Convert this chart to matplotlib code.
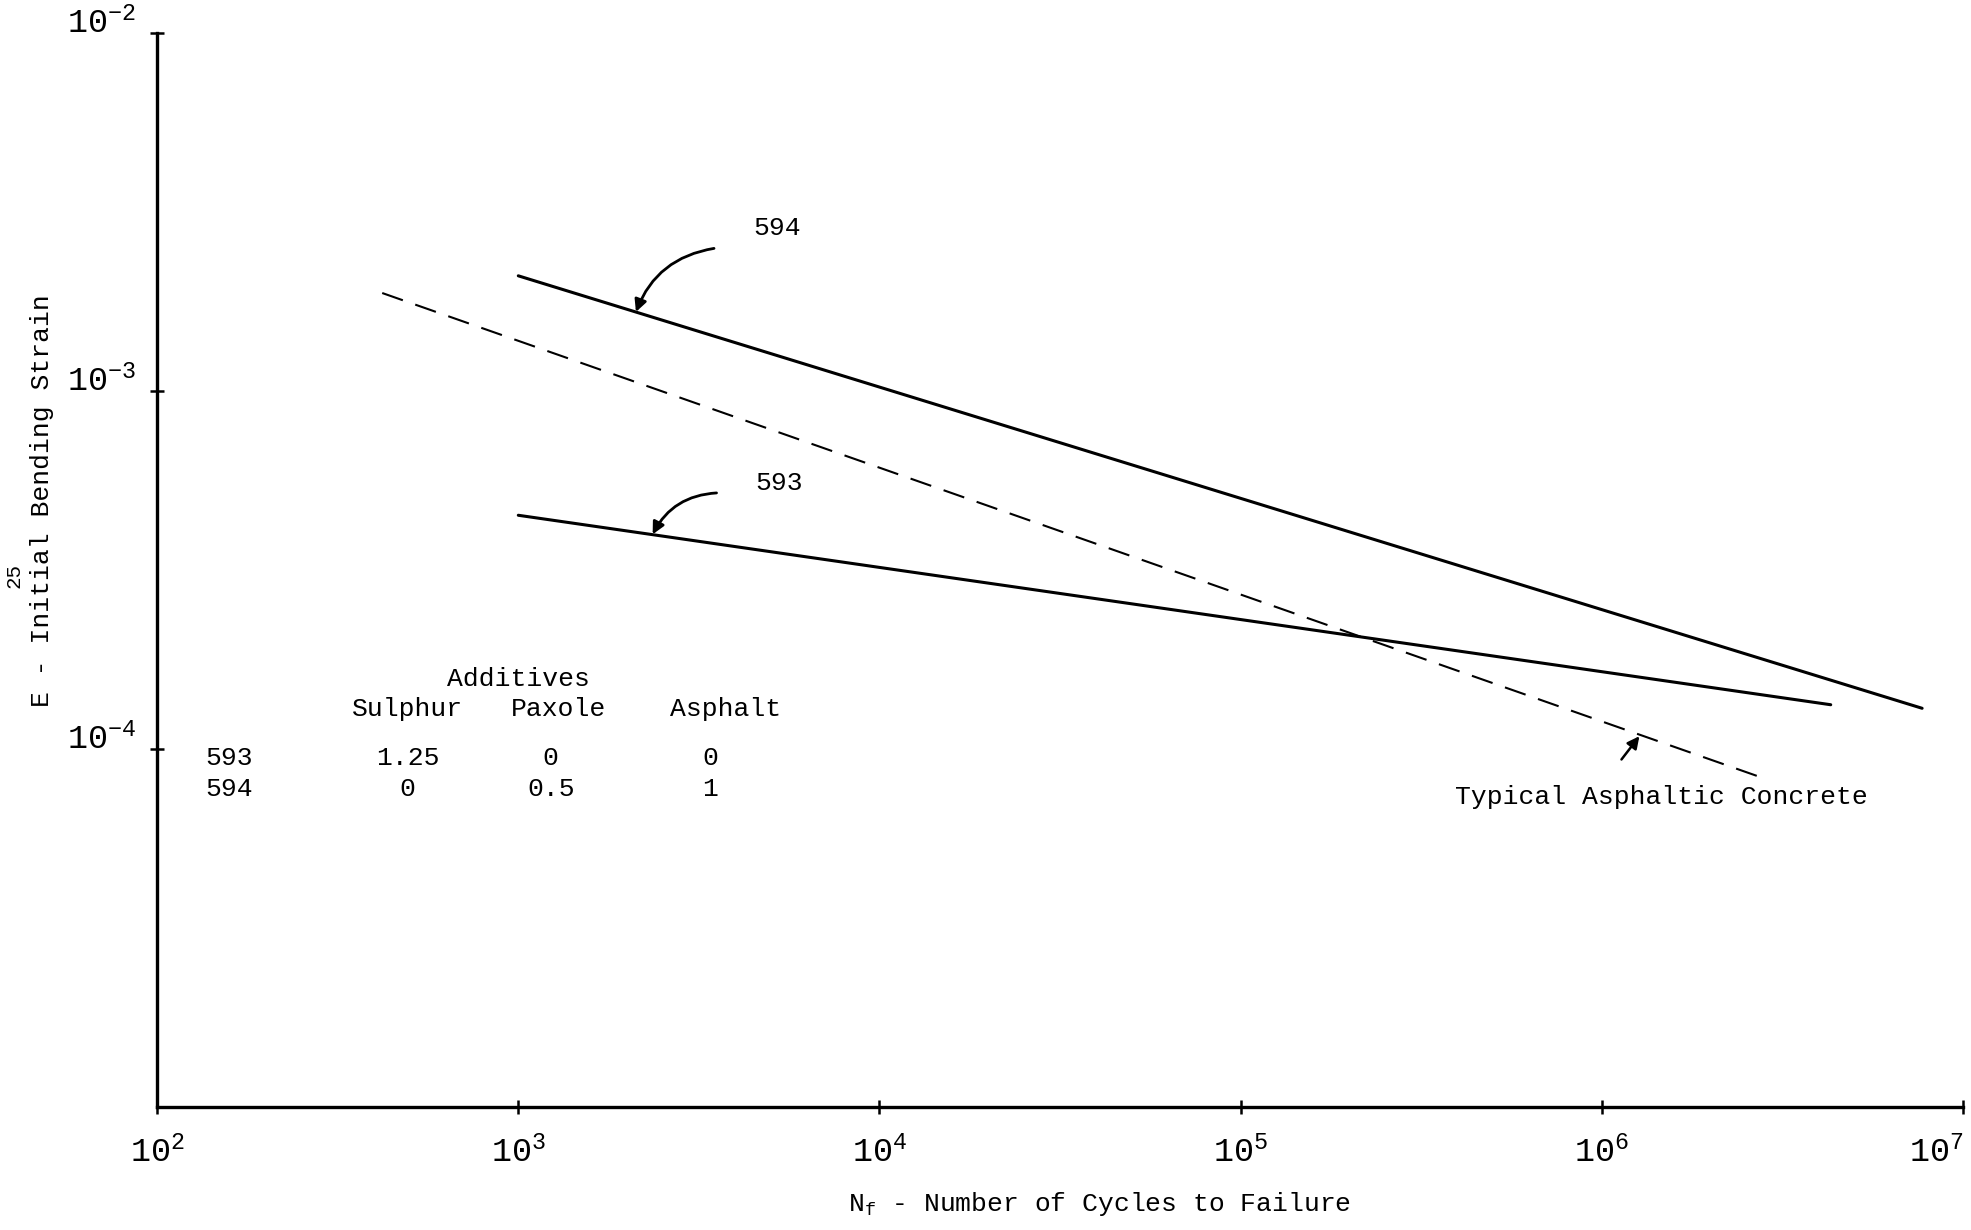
import math
import matplotlib
matplotlib.use("Agg")
import matplotlib.pyplot as plt
from matplotlib.ticker import FixedLocator, FuncFormatter

# ---- data ----
n_594 = [1.0e3, 7.7e6]
e_594 = [2.1e-3, 1.3e-4]
n_593 = [1.0e3, 4.3e6]
e_593 = [4.5e-4, 1.33e-4]
n_typ = [4.2e2, 2.7e6]
e_typ = [1.88e-3, 8.4e-5]

mixes = ["593", "594"]
sulphur = ["1.25", "0"]
paxole = ["0", "0.5"]
asphalt = ["0", "1"]
col_headers = ["Sulphur", "Paxole", "Asphalt"]

xticks = [1e2, 1e3, 1e4, 1e5, 1e6, 1e7]
yticks = [1e-4, 1e-3, 1e-2]

plt.rcParams['font.family'] = ['Liberation Mono', 'DejaVu Sans Mono']
plt.rcParams['mathtext.default'] = 'regular'

fig = plt.figure(figsize=(19.71, 12.30), dpi=100)
ax = fig.add_axes([0.0797, 0.100, 0.9163, 0.873])
ax.set_xscale('log')
ax.set_yscale('log')
ax.set_xlim(1e2, 1e7)
ax.set_ylim(1e-5, 1e-2)

ax.plot(n_594, e_594, color='black', lw=2.2, solid_capstyle='round')
ax.plot(n_593, e_593, color='black', lw=2.2, solid_capstyle='round')
ax.plot(n_typ, e_typ, color='black', lw=1.5, dashes=(10.5, 6.3))

for s in ['top', 'right']:
    ax.spines[s].set_visible(False)
for s in ['left', 'bottom']:
    ax.spines[s].set_linewidth(2.4)

ax.xaxis.set_major_locator(FixedLocator(xticks))
ax.yaxis.set_major_locator(FixedLocator(yticks))
ax.xaxis.set_minor_locator(FixedLocator([]))
ax.yaxis.set_minor_locator(FixedLocator([]))


def fmt(v, pos):
    e = int(round(math.log10(v)))
    return r"$10^{%d}$" % e


ax.xaxis.set_major_formatter(FuncFormatter(fmt))
ax.yaxis.set_major_formatter(FuncFormatter(fmt))
ax.tick_params(axis='both', direction='inout', length=10, width=1.8,
               labelsize=24)
ax.tick_params(axis='x', pad=16)
ax.tick_params(axis='y', pad=10)

fig.canvas.draw()
ax.xaxis.get_major_ticks()[-1].label1.set_horizontalalignment('right')
for t in ax.yaxis.get_major_ticks():
    t.label1.set_verticalalignment('baseline')

ax.set_xlabel(r"N$_f$ - Number of Cycles to Failure", fontsize=19)
ax.xaxis.set_label_coords(0.522, -0.0903)
ax.xaxis.label.set_verticalalignment('center')
ax.set_ylabel("E - Initial Bending Strain", fontsize=19)
ax.yaxis.set_label_coords(-0.0637, 0.565)
ax.yaxis.label.set_verticalalignment('center')
fig.text(0.0072, 0.5325, "25", rotation=90, fontsize=15, ha='center', va='center')

# ---- labels on the curves ----
fs = 19
ax.text(0.3433, 0.8187, "594", transform=ax.transAxes, fontsize=fs,
        ha='center', va='center')
ax.text(0.3447, 0.5813, "593", transform=ax.transAxes, fontsize=fs,
        ha='center', va='center')
ax.text(0.8329, 0.2889, "Typical Asphaltic Concrete", transform=ax.transAxes,
        fontsize=fs, ha='center', va='center')

ax.annotate("", xy=(0.2646, 0.738), xytext=(0.3099, 0.800),
            xycoords='axes fraction', textcoords='axes fraction',
            arrowprops=dict(arrowstyle='-|>', color='black', lw=2.0,
                            mutation_scale=18,
                            connectionstyle='arc3,rad=0.3'))
ax.annotate("", xy=(0.2737, 0.531), xytext=(0.3113, 0.572),
            xycoords='axes fraction', textcoords='axes fraction',
            arrowprops=dict(arrowstyle='-|>', color='black', lw=2.0,
                            mutation_scale=18,
                            connectionstyle='arc3,rad=0.3'))
ax.annotate("", xy=(0.8217, 0.3474), xytext=(0.8099, 0.3216),
            xycoords='axes fraction', textcoords='axes fraction',
            arrowprops=dict(arrowstyle='-|>', color='black', lw=1.8,
                            mutation_scale=18))

# ---- additives table ----
ax.text(0.1999, 0.399, "Additives", transform=ax.transAxes, fontsize=fs,
        ha='center', va='center')
hdr_x = [0.1386, 0.2221, 0.3148]
for hx, h in zip(hdr_x, col_headers):
    ax.text(hx, 0.3708, h, transform=ax.transAxes, fontsize=fs,
            ha='center', va='center')
row_y = [0.3251, 0.2959]
val_x = [0.1386, 0.218, 0.3064]
for i, ry in enumerate(row_y):
    ax.text(0.0397, ry, mixes[i], transform=ax.transAxes, fontsize=fs,
            ha='center', va='center')
    for vx, col in zip(val_x, [sulphur, paxole, asphalt]):
        ax.text(vx, ry, col[i], transform=ax.transAxes, fontsize=fs,
                ha='center', va='center')

fig.savefig("out.png", dpi=100)
